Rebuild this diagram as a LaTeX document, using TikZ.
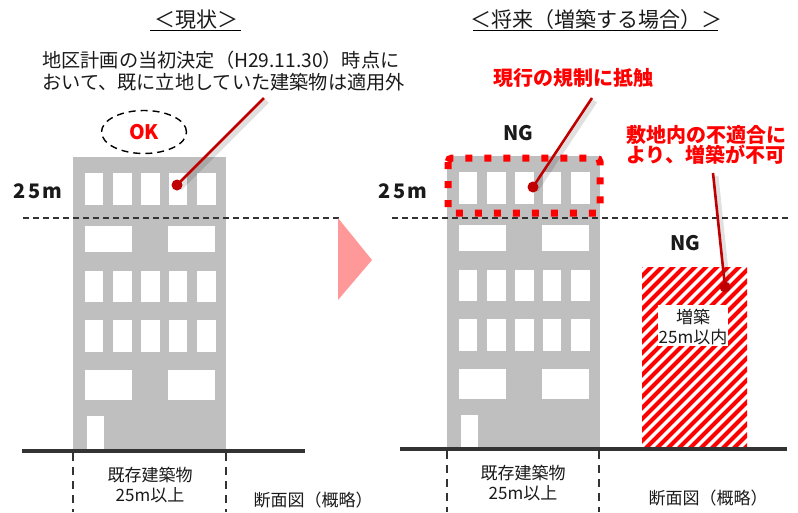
\documentclass[tikz,border=0pt]{standalone}
\usepackage{fontspec}
\setmainfont{Noto Sans CJK JP}
\usetikzlibrary{shapes.geometric,calc}

\definecolor{bgray}{HTML}{BFBFBF}
\definecolor{calred}{HTML}{C00000}
\definecolor{hatchred}{HTML}{FF0000}
\definecolor{arrowpink}{HTML}{FF9999}
\definecolor{gline}{HTML}{333333}
\definecolor{ink}{HTML}{1A1A1A}

\tikzset{
  bldg/.style={fill=bgray, draw=none},
  win/.style={fill=white, draw=none},
  title/.style={font=\fontsize{21}{24}\selectfont, text=ink, inner sep=0pt},
  note/.style={font=\fontsize{19.2}{22}\selectfont, text=ink, align=left, inner sep=0pt},
  rednote/.style={font=\bfseries\fontsize{20}{20.5}\selectfont, text=hatchred, align=left, inner sep=0pt},
  judge/.style={font=\bfseries\fontsize{20}{24}\selectfont, text=ink, inner sep=0pt},
  heightlbl/.style={font=\bfseries\fontsize{20}{24}\selectfont\addfontfeature{LetterSpace=12}, text=ink, inner sep=0pt},
  small/.style={font=\fontsize{17}{20}\selectfont, text=ink, align=center, inner sep=0pt},
  callout/.style={draw=calred, line width=2.6pt},
  calshadow/.style={draw=black, opacity=0.12, line width=5pt},
  dotmark/.style={circle, fill=calred, inner sep=0pt, minimum size=11pt},
  ground/.style={draw=gline, line width=3.5pt},
  level/.style={draw=gline, line width=1.3pt, dash pattern=on 6pt off 4pt},
  bound/.style={draw=gline, line width=1.6pt, dash pattern=on 8pt off 6pt},
  reddots/.style={draw=hatchred, line width=7pt, dash pattern=on 7pt off 12pt, rounded corners=4pt},
}

% one building section: body, windows per floor and the entrance
\newcommand{\drawbuilding}{%
  \fill[bldg] (73,157) rectangle (226,451);
  \foreach \y/\h in {173/205, 271/302, 320/352}{
    \foreach \a/\b in {85/103, 113/132, 141/160, 169/187, 197/216}{
      \fill[win] (\a,\y) rectangle (\b,\h);
    }
  }
  \foreach \y/\h in {226/252, 370/400}{
    \foreach \a/\b in {85/132, 168/215}{
      \fill[win] (\a,\y) rectangle (\b,\h);
    }
  }
  \fill[win] (87,416) rectangle (104,451);
}

\begin{document}
\begin{tikzpicture}[x=1pt, y=-1pt]
\useasboundingbox (0,0) rectangle (798,512);

% ---------- present state ----------
\node[title] (t1) at (196,20) {＜現状＞};
\draw[line width=1pt] (150,30) -- (241,30);

\drawbuilding

\draw[level] (23,218) -- (340,218);
\node[heightlbl] (h1) at (38,191) {25m};
\draw[ground] (22,451) -- (305,451);

\node[draw, dashed, line width=1.4pt, dash pattern=on 7pt off 5pt, ellipse,
      minimum width=85pt, minimum height=43pt, inner sep=0pt,
      font=\bfseries\fontsize{20}{24}\selectfont, text=hatchred] (ok) at (144,132) {OK};

\node[note, anchor=west] (n1) at (42,71) {地区計画の当初決定（H29.11.30）時点に\\おいて、既に立地していた建築物は適用外};

\coordinate (c1s) at (264,98);
\coordinate (c1e) at (177,185);
\draw[calshadow] ($(c1s)+(3,3)$) -- ($(c1e)+(3,3)$);
\draw[callout] (c1s) -- (c1e);
\node[dotmark] (d1) at (c1e) {};

\draw[bound] (73,453) -- (73,512);
\draw[bound] (226,453) -- (226,512);
\node[small] (e1) at (150,485) {既存建築物\\25m以上};
\node[small] (s1) at (313,500) {断面図（概略）};

% ---------- transition arrow ----------
\fill[arrowpink] (338,218) -- (372,260) -- (338,300) -- cycle;

% ---------- future (extension) ----------
\node[title] (t2) at (596,20) {＜将来（増築する場合）＞};
\draw[line width=1pt] (473,30) -- (718,30);

\begin{scope}[shift={(374,-1)}]
  \drawbuilding
\end{scope}

\draw[level] (392,218) -- (790,218);
\node[heightlbl] (h2) at (403,191) {25m};

\draw[reddots] (448,158) rectangle (600,213);
\node[judge] (ng1) at (518,133) {NG};

% extension area, hatched
\begin{scope}
  \clip (642,267) rectangle (747,447);
  \foreach \i in {455,466,...,760}{
    \draw[hatchred, line width=4pt] (\i,452) -- (\i+190,262);
  }
\end{scope}
\fill[white] (658,305) rectangle (728,346);
\node[small] (ext) at (693,327) {増築\\25m以内};
\node[judge] (ng2) at (685,243) {NG};

\draw[ground] (400,449) -- (787,449);

\node[rednote] (r1) at (573,78) {現行の規制に抵触};
\node[rednote, anchor=west] (r2) at (626,145) {敷地内の不適合に\\より、増築が不可};

\coordinate (c2s) at (592,98);
\coordinate (c2e) at (533,187);
\draw[calshadow] ($(c2s)+(3,3)$) -- ($(c2e)+(3,3)$);
\draw[callout] (c2s) -- (c2e);
\node[dotmark] (d2) at (c2e) {};

\coordinate (c3s) at (713,173);
\coordinate (c3e) at (725,287);
\draw[calshadow] ($(c3s)+(3,3)$) -- ($(c3e)+(3,3)$);
\draw[callout] (c3s) -- (c3e);
\node[dotmark] (d3) at (c3e) {};

\draw[bound] (447,451) -- (447,512);
\draw[bound] (599,451) -- (599,512);
\node[small] (e2) at (523,483) {既存建築物\\25m以上};
\node[small] (s2) at (708,498) {断面図（概略）};

\end{tikzpicture}
\end{document}
